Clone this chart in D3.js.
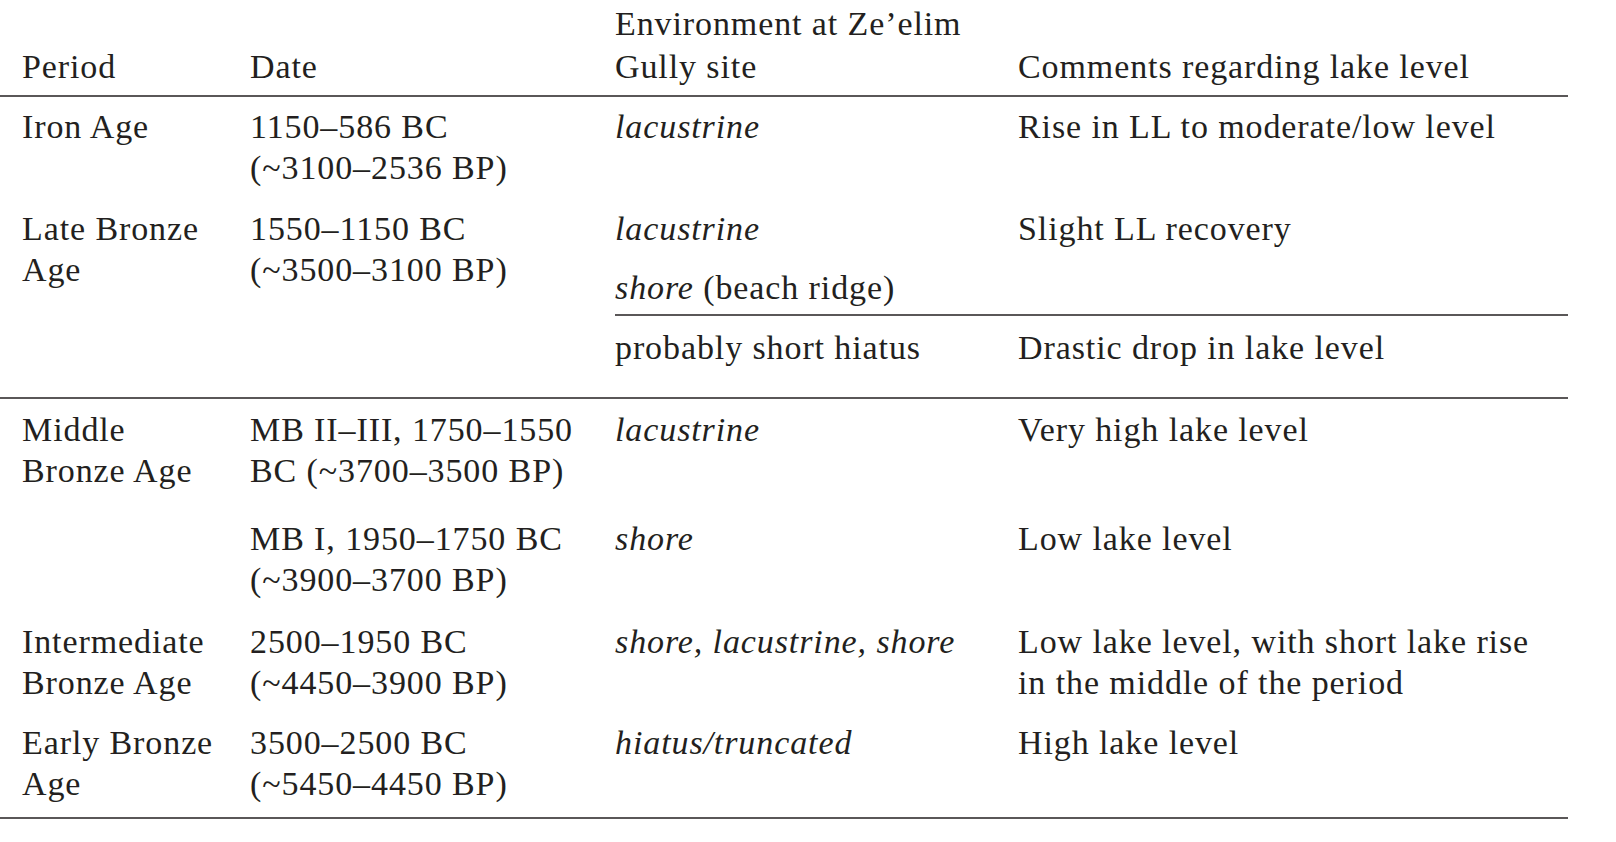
<!DOCTYPE html>
<html>
<head>
<meta charset="utf-8">
<script src="https://cdn.jsdelivr.net/npm/d3@7"></script>
<style>
  body { margin: 0; background: #fff; }
  text { font-family: "Liberation Serif", "DejaVu Serif", serif; font-size: 34px; letter-spacing: 0.9px; fill: #231f20; }
</style>
</head>
<body>
<svg id="chart" width="1616" height="842"></svg>
<script>
// table content; *text* marks italic runs
var headers = [["Period"], ["Date"], ["Environment at Ze\u2019elim", "Gully site"], ["Comments regarding lake level"]];
var periods = [["Iron Age"], ["Late Bronze", "Age"], [], ["Middle", "Bronze Age"], [], ["Intermediate", "Bronze Age"], ["Early Bronze", "Age"]];
var dates = [["1150\u2013586 BC", "(~3100\u20132536 BP)"], ["1550\u20131150 BC", "(~3500\u20133100 BP)"], [], ["MB II\u2013III, 1750\u20131550", "BC (~3700\u20133500 BP)"], ["MB I, 1950\u20131750 BC", "(~3900\u20133700 BP)"], ["2500\u20131950 BC", "(~4450\u20133900 BP)"], ["3500\u20132500 BC", "(~5450\u20134450 BP)"]];
var environments = [["*lacustrine*"], ["*lacustrine*", "*shore* (beach ridge)"], ["probably short hiatus"], ["*lacustrine*"], ["*shore*"], ["*shore, lacustrine, shore*"], ["*hiatus/truncated*"]];
var comments = [["Rise in LL to moderate/low level"], ["Slight LL recovery"], ["Drastic drop in lake level"], ["Very high lake level"], ["Low lake level"], ["Low lake level, with short lake rise", "in the middle of the period"], ["High lake level"]];

// layout
var colX = [22, 250, 615, 1018];
var rowTop = [138, 240, 359, 441, 550, 653, 754];
var lineGap = 41;
var envGap = 59;
var svg = d3.select("#chart");

function addText(x, y, str) {
  var t = svg.append("text").attr("x", x).attr("y", y);
  str.split(/(\*[^*]*\*)/).filter(function (s) { return s.length; }).forEach(function (part) {
    var it = part[0] === "*";
    t.append("tspan").attr("font-style", it ? "italic" : "normal").text(it ? part.slice(1, -1) : part);
  });
}

// header
headers.forEach(function (h, c) {
  var base = 78 - (h.length - 1) * 43;
  h.forEach(function (s, i) { addText(colX[c], base + i * 43, s); });
});

var columns = [periods, dates, environments, comments];
columns.forEach(function (col, c) {
  col.forEach(function (cell, r) {
    var gap = (c === 2) ? envGap : lineGap;
    cell.forEach(function (s, i) { addText(colX[c], rowTop[r] + i * gap, s); });
  });
});

// rules
var rules = [[0, 1568, 96], [615, 1568, 315], [0, 1568, 398], [0, 1568, 818]];
svg.selectAll("line.rule").data(rules).enter().append("line")
  .attr("x1", function (d) { return d[0]; }).attr("x2", function (d) { return d[1]; })
  .attr("y1", function (d) { return d[2]; }).attr("y2", function (d) { return d[2]; })
  .attr("stroke", "#231f20").attr("stroke-width", 1.6);
</script>
</body>
</html>
